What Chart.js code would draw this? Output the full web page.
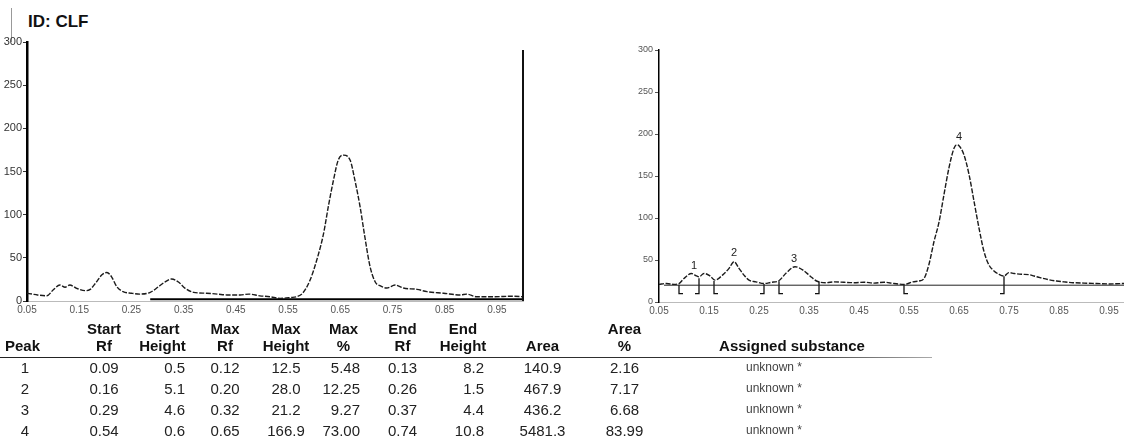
<!DOCTYPE html>
<html>
<head>
<meta charset="utf-8">
<script src="https://cdn.jsdelivr.net/npm/chart.js@4.4.1/dist/chart.umd.min.js"></script>
<style>
html,body{margin:0;padding:0;background:#fff;}
body{width:1124px;height:441px;overflow:hidden;position:relative;font-family:"Liberation Sans",Arial,sans-serif;}
#vbar{position:absolute;left:11px;top:8px;width:1px;height:34px;background:#999;}
#title{position:absolute;left:28px;top:12px;font-weight:bold;font-size:17px;line-height:20px;color:#111;}
#c1{position:absolute;left:0;top:0;}
#c2{position:absolute;left:600px;top:0;}
#tbl{position:absolute;left:0;top:320px;border-collapse:collapse;table-layout:fixed;font-size:15px;color:#222;}
#tbl th{font-weight:bold;line-height:17px;vertical-align:bottom;padding:0 0 3px 0;text-align:center;color:#111;}
#tbl td{line-height:21px;height:21px;padding:0;text-align:center;white-space:nowrap;}
#rule{position:absolute;left:0;top:357px;width:932px;height:1px;background:linear-gradient(to right,#222 0%,#333 85%,#aaa 100%);}
#tbl th.c0{text-align:left;padding-left:5px;}
#tbl td.c0{padding-right:14px;}
#tbl .c1{padding-left:12px;}
#tbl td.c2{text-align:right;padding-right:8px;}
#tbl td.c5{text-align:right;padding-right:12px;}
#tbl th.c7{padding-right:9px;}
#tbl td.c7{text-align:right;padding-right:18px;}
#tbl .c9{padding-right:42px;}
#tbl td.c10{padding-right:36px;font-size:12px;color:#444;}
</style>
</head>
<body>
<div id="vbar"></div>
<div id="title">ID: CLF</div>
<canvas id="c1" width="535" height="322"></canvas>
<canvas id="c2" width="545" height="322"></canvas>
<div id="rule"></div>
<table id="tbl"></table>
<script>
// ---- axis ticks ----
const xTickValues = [0.05, 0.15, 0.25, 0.35, 0.45, 0.55, 0.65, 0.75, 0.85, 0.95];
const xTickLabels = ['0.05', '0.15', '0.25', '0.35', '0.45', '0.55', '0.65', '0.75', '0.85', '0.95'];
const yTickValues = [0, 50, 100, 150, 200, 250, 300];

// ---- left densitogram (raw scan) ----
const leftRf = [0.05, 0.06, 0.07, 0.088, 0.10, 0.113, 0.123, 0.132, 0.145, 0.161, 0.171, 0.183, 0.193, 0.203, 0.212, 0.222, 0.234, 0.25, 0.266, 0.286, 0.302, 0.314, 0.327, 0.34, 0.353, 0.369, 0.394, 0.415, 0.433, 0.458, 0.475, 0.496, 0.515, 0.535, 0.555, 0.567, 0.578, 0.592, 0.605, 0.618, 0.627, 0.637, 0.646, 0.656, 0.669, 0.678, 0.688, 0.697, 0.707, 0.717, 0.727, 0.739, 0.755, 0.771, 0.797, 0.816, 0.848, 0.88, 0.892, 0.911, 0.945, 0.98, 1.0];
const leftSignal = [9, 8, 7, 6, 12.7, 18.5, 16, 18.5, 14.7, 12, 13.5, 22, 30, 33, 28, 16.6, 10.8, 9, 8, 10, 16.6, 22, 25.5, 22, 14.7, 10, 9, 8, 7, 7, 8, 6, 5, 3, 4, 5, 9, 24, 47.5, 78, 109, 140, 163, 169, 163, 140, 109, 74.5, 40, 22, 17.5, 15, 18.5, 15, 13.5, 10.8, 9, 7, 8, 5, 5, 5.5, 5];
const leftBaseRf = [0.286, 1.0];
const leftBaseSignal = [2, 2];

// ---- right densitogram (evaluated) ----
const rightRf = [0.05, 0.065, 0.08, 0.09, 0.10, 0.115, 0.125, 0.13, 0.14, 0.152, 0.162, 0.177, 0.19, 0.20, 0.21, 0.22, 0.23, 0.244, 0.26, 0.275, 0.289, 0.305, 0.322, 0.338, 0.352, 0.365, 0.385, 0.40, 0.42, 0.44, 0.46, 0.48, 0.50, 0.52, 0.54, 0.558, 0.57, 0.58, 0.59, 0.60, 0.61, 0.62, 0.63, 0.64, 0.645, 0.65, 0.66, 0.67, 0.68, 0.69, 0.70, 0.71, 0.72, 0.73, 0.74, 0.75, 0.76, 0.775, 0.79, 0.80, 0.812, 0.83, 0.845, 0.86, 0.878, 0.90, 0.925, 0.95, 0.98, 1.0];
const rightSignal = [21, 22, 21, 22, 28, 34, 31, 30, 34, 31, 26, 32, 40, 48, 40, 32, 26, 24, 22, 23.5, 25, 35, 42, 38, 31, 25, 23, 24, 23.5, 23, 23.5, 22.5, 23.5, 22, 21, 24, 25, 28, 45, 72, 95, 128, 160, 183, 187, 186, 175, 152, 120, 88, 60, 44, 37, 33, 31, 35, 34, 33, 32.5, 31, 29, 26.5, 25, 24, 23, 22.5, 22, 21.5, 22, 21.5];
const rightBaseRf = [0.06, 1.0];
const rightBaseSignal = [20, 20];

// ---- peak table ----
const peakNo = [1, 2, 3, 4];
const startRf = [0.09, 0.16, 0.29, 0.54];
const startHeight = [0.5, 5.1, 4.6, 0.6];
const maxRf = [0.12, 0.20, 0.32, 0.65];
const maxHeight = [12.5, 28.0, 21.2, 166.9];
const maxPct = [5.48, 12.25, 9.27, 73.00];
const endRf = [0.13, 0.26, 0.37, 0.74];
const endHeight = [8.2, 1.5, 4.4, 10.8];
const area = [140.9, 467.9, 436.2, 5481.3];
const areaPct = [2.16, 7.17, 6.68, 83.99];
const substance = ['unknown *', 'unknown *', 'unknown *', 'unknown *'];

// ---- helpers ----
const pts = (xs, ys) => xs.map((x, i) => ({x: x, y: ys[i]}));
const FONT = '"Liberation Sans", Arial, sans-serif';

function xAxis(opts) {
  return {
    type: 'linear', min: 0.05, max: 1.0,
    afterBuildTicks: s => { s.ticks = xTickValues.map(v => ({value: v})); },
    afterFit: s => { s.height = opts.h; },
    ticks: {callback: (v, i) => xTickLabels[i], autoSkip: false, maxRotation: 0, padding: 3,
            color: opts.color, font: {family: FONT, size: opts.size}},
    grid: {drawOnChartArea: false, drawTicks: false},
    border: {display: true, color: opts.border, width: 1}
  };
}
function yAxis(opts) {
  return {
    type: 'linear', min: 0, max: 300,
    afterBuildTicks: s => { s.ticks = yTickValues.map(v => ({value: v})); },
    afterFit: s => { s.width = opts.w; },
    ticks: {padding: opts.pad, color: opts.color, font: {family: FONT, size: opts.size}},
    grid: {drawOnChartArea: false, drawTicks: true, tickLength: 4, color: opts.color, tickWidth: 1},
    border: {display: true, color: '#000', width: opts.bw}
  };
}
const traceStyle = {borderColor: '#1b1b1b', borderWidth: 1.4, borderDash: [5, 1.6], pointRadius: 0, cubicInterpolationMode: 'monotone', fill: false};

// ---- left chart ----
const rightBorder = {
  id: 'rightBorder',
  afterDatasetsDraw(c) {
    const a = c.chartArea, ctx = c.ctx;
    ctx.save(); ctx.strokeStyle = '#111'; ctx.lineWidth = 2;
    ctx.beginPath(); ctx.moveTo(a.right, a.top + 8); ctx.lineTo(a.right, a.bottom); ctx.stroke();
    ctx.restore();
  }
};
new Chart(document.getElementById('c1'), {
  type: 'line',
  data: {datasets: [
    Object.assign({data: pts(leftRf, leftSignal)}, traceStyle),
    {data: pts(leftBaseRf, leftBaseSignal), borderColor: '#000', borderWidth: 2.2, pointRadius: 0}
  ]},
  options: {
    responsive: false, animation: false, devicePixelRatio: 1,
    layout: {padding: {top: 42, right: 12, left: 0, bottom: 0}, autoPadding: false},
    plugins: {legend: {display: false}, tooltip: {enabled: false}},
    scales: {
      x: xAxis({h: 21, color: '#555', size: 10, border: '#bbb'}),
      y: yAxis({w: 27, pad: 1, color: '#333', size: 11, bw: 2.5})
    }
  },
  plugins: [rightBorder]
});

// ---- right chart ----
const rightBase = rightBaseSignal[0];
const markBottom = 10, foot = 0.008;
const markerPts = [];
startRf.forEach((r, i) => {
  markerPts.push({x: r, y: rightBase + startHeight[i]}, {x: r, y: markBottom}, {x: r + foot, y: markBottom}, {x: r + foot, y: null});
});
endRf.forEach((r, i) => {
  markerPts.push({x: r, y: rightBase + endHeight[i]}, {x: r, y: markBottom}, {x: r - foot, y: markBottom}, {x: r - foot, y: null});
});
const peakLabels = {
  id: 'peakLabels',
  afterDatasetsDraw(c) {
    const ctx = c.ctx, xs = c.scales.x, ys = c.scales.y;
    ctx.save(); ctx.fillStyle = '#222'; ctx.font = '11px ' + FONT; ctx.textAlign = 'center'; ctx.textBaseline = 'bottom';
    peakNo.forEach((p, i) => {
      ctx.fillText(String(p), xs.getPixelForValue(maxRf[i]), ys.getPixelForValue(rightBase + maxHeight[i]) - 3);
    });
    ctx.restore();
  }
};
new Chart(document.getElementById('c2'), {
  type: 'line',
  data: {datasets: [
    {data: pts(rightBaseRf, rightBaseSignal), borderColor: '#222', borderWidth: 1, pointRadius: 0},
    Object.assign({data: pts(rightRf, rightSignal)}, traceStyle),
    {data: markerPts, borderColor: '#111', borderWidth: 1.3, pointRadius: 0, spanGaps: false, tension: 0}
  ]},
  options: {
    responsive: false, animation: false, devicePixelRatio: 1,
    layout: {padding: {top: 50, right: 11, left: 0, bottom: 0}, autoPadding: false},
    plugins: {legend: {display: false}, tooltip: {enabled: false}},
    scales: {
      x: xAxis({h: 20, color: '#555', size: 10, border: '#bbb'}),
      y: yAxis({w: 59, pad: 2, color: '#555', size: 9, bw: 1.5})
    }
  },
  plugins: [peakLabels]
});

// ---- table ----
const cols = [
  {h: ['', 'Peak'], v: peakNo.map(String)},
  {h: ['Start', 'Rf'], v: startRf.map(v => v.toFixed(2))},
  {h: ['Start', 'Height'], v: startHeight.map(v => v.toFixed(1))},
  {h: ['Max', 'Rf'], v: maxRf.map(v => v.toFixed(2))},
  {h: ['Max', 'Height'], v: maxHeight.map(v => v.toFixed(1))},
  {h: ['Max', '%'], v: maxPct.map(v => v.toFixed(2))},
  {h: ['End', 'Rf'], v: endRf.map(v => v.toFixed(2))},
  {h: ['End', 'Height'], v: endHeight.map(v => v.toFixed(1))},
  {h: ['', 'Area'], v: area.map(v => v.toFixed(1))},
  {h: ['Area', '%'], v: areaPct.map(v => v.toFixed(2))},
  {h: ['', 'Assigned substance'], v: substance}
];
const colWidths = [64, 68, 61, 64, 58, 57, 61, 69, 81, 125, 168];
const tbl = document.getElementById('tbl');
let html = '<colgroup>' + colWidths.map(w => '<col style="width:' + w + 'px">').join('') + '</colgroup><tr>';
cols.forEach((c, i) => { html += '<th class="c' + i + '">' + (c.h[0] ? c.h[0] + '<br>' : '') + c.h[1] + '</th>'; });
html += '</tr>';
peakNo.forEach((p, r) => {
  html += '<tr>' + cols.map((c, i) => '<td class="c' + i + '">' + c.v[r] + '</td>').join('') + '</tr>';
});
tbl.innerHTML = html;
</script>
</body>
</html>
